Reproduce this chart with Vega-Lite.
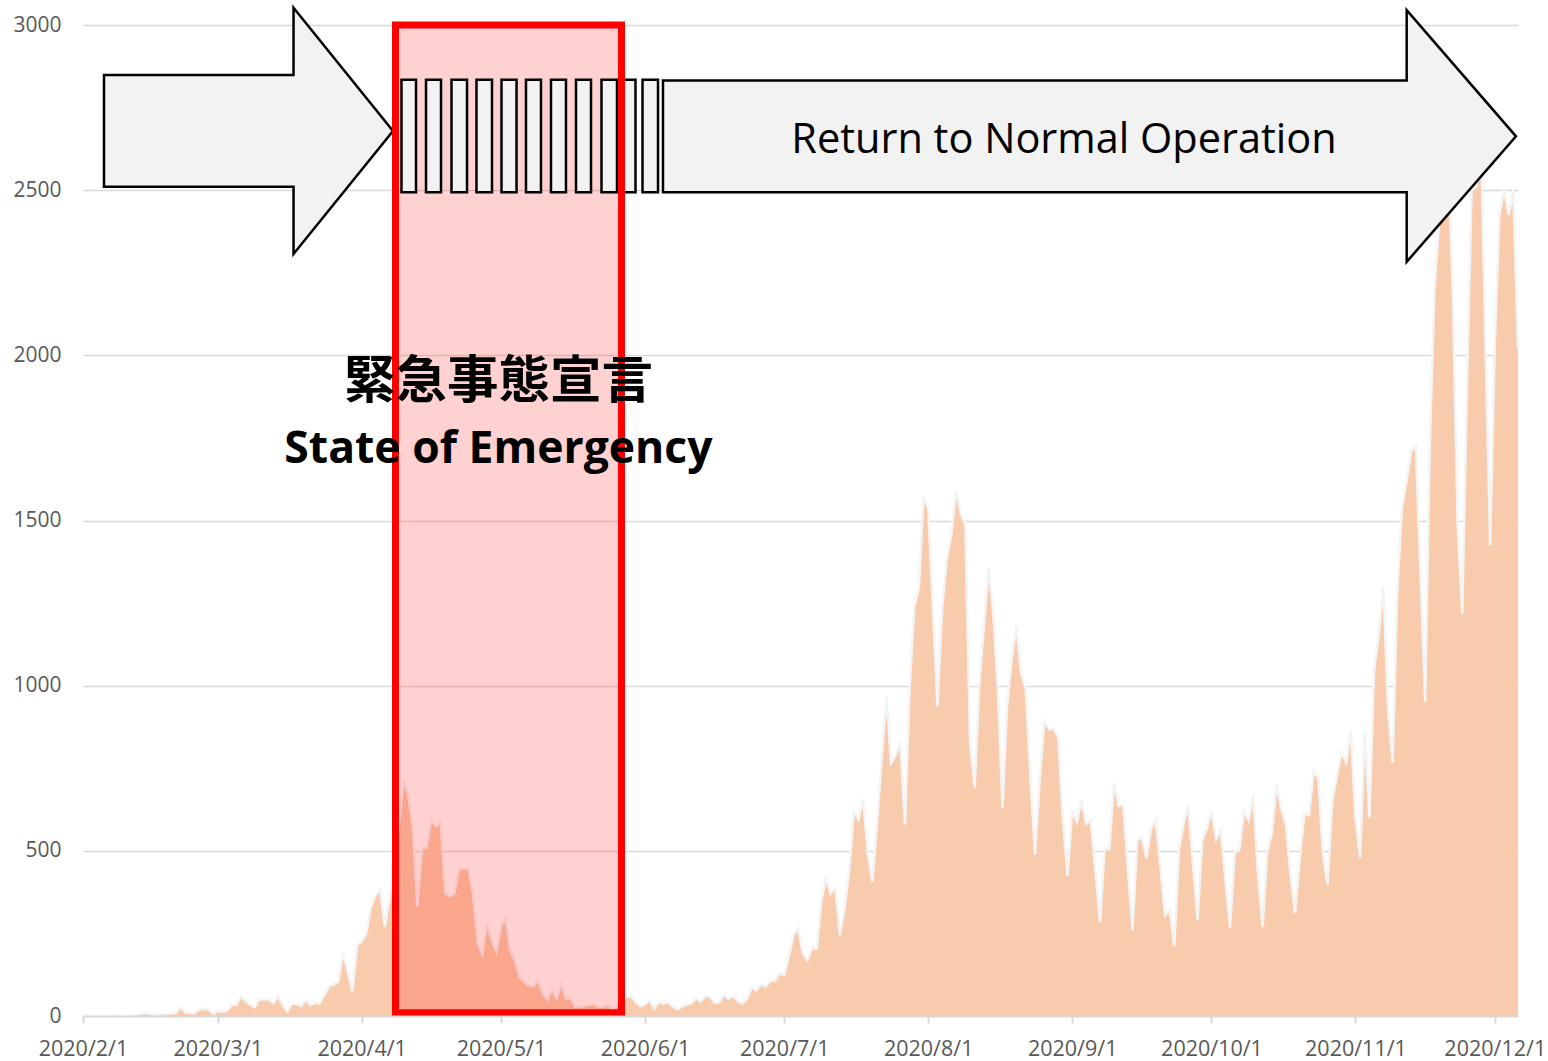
{
  "$schema": "https://vega.github.io/schema/vega-lite/v6.json",
  "width": 1435,
  "height": 991,
  "autosize": {"type": "none"},
  "padding": {"left": 83, "top": 25, "right": 30, "bottom": 45},
  "background": "white",
  "config": {"view": {"stroke": null}},
  "datasets": {
    "cases": [
      {"date":"2020-02-01T00:00","cases":0},{"date":"2020-02-02T00:00","cases":0},{"date":"2020-02-03T00:00","cases":0},{"date":"2020-02-04T00:00","cases":1},{"date":"2020-02-05T00:00","cases":0},{"date":"2020-02-06T00:00","cases":1},{"date":"2020-02-07T00:00","cases":0},{"date":"2020-02-08T00:00","cases":1},{"date":"2020-02-09T00:00","cases":0},{"date":"2020-02-10T00:00","cases":0},
      {"date":"2020-02-11T00:00","cases":1},{"date":"2020-02-12T00:00","cases":2},{"date":"2020-02-13T00:00","cases":5},{"date":"2020-02-14T00:00","cases":9},{"date":"2020-02-15T00:00","cases":8},{"date":"2020-02-16T00:00","cases":5},{"date":"2020-02-17T00:00","cases":4},{"date":"2020-02-18T00:00","cases":5},{"date":"2020-02-19T00:00","cases":6},{"date":"2020-02-20T00:00","cases":8},
      {"date":"2020-02-21T00:00","cases":9},{"date":"2020-02-22T00:00","cases":26},{"date":"2020-02-23T00:00","cases":11},{"date":"2020-02-24T00:00","cases":10},{"date":"2020-02-25T00:00","cases":8},{"date":"2020-02-26T00:00","cases":20},{"date":"2020-02-27T00:00","cases":22},{"date":"2020-02-28T00:00","cases":20},{"date":"2020-02-29T00:00","cases":6},
      {"date":"2020-03-01T00:00","cases":14},{"date":"2020-03-02T00:00","cases":14},{"date":"2020-03-03T00:00","cases":15},{"date":"2020-03-04T00:00","cases":33},{"date":"2020-03-05T00:00","cases":34},{"date":"2020-03-06T00:00","cases":58},{"date":"2020-03-07T00:00","cases":46},{"date":"2020-03-08T00:00","cases":34},{"date":"2020-03-09T00:00","cases":26},{"date":"2020-03-10T00:00","cases":50},
      {"date":"2020-03-11T00:00","cases":50},{"date":"2020-03-12T00:00","cases":50},{"date":"2020-03-13T00:00","cases":38},{"date":"2020-03-14T00:00","cases":60},{"date":"2020-03-15T00:00","cases":34},{"date":"2020-03-16T00:00","cases":14},{"date":"2020-03-17T00:00","cases":38},{"date":"2020-03-18T00:00","cases":36},{"date":"2020-03-19T00:00","cases":31},{"date":"2020-03-20T00:00","cases":48},
      {"date":"2020-03-21T00:00","cases":34},{"date":"2020-03-22T00:00","cases":40},{"date":"2020-03-23T00:00","cases":38},{"date":"2020-03-24T00:00","cases":65},{"date":"2020-03-25T00:00","cases":90},{"date":"2020-03-26T00:00","cases":96},{"date":"2020-03-27T00:00","cases":104},{"date":"2020-03-28T00:00","cases":191},{"date":"2020-03-29T00:00","cases":135},{"date":"2020-03-30T00:00","cases":74},
      {"date":"2020-03-31T00:00","cases":214},
      {"date":"2020-04-01T00:00","cases":225},{"date":"2020-04-02T00:00","cases":250},{"date":"2020-04-03T00:00","cases":331},{"date":"2020-04-04T00:00","cases":366},{"date":"2020-04-05T00:00","cases":383},{"date":"2020-04-06T00:00","cases":270},{"date":"2020-04-07T00:00","cases":355},{"date":"2020-04-08T00:00","cases":480},{"date":"2020-04-09T00:00","cases":568},{"date":"2020-04-10T00:00","cases":707},
      {"date":"2020-04-11T00:00","cases":675},{"date":"2020-04-12T00:00","cases":574},{"date":"2020-04-13T00:00","cases":331},{"date":"2020-04-14T00:00","cases":507},{"date":"2020-04-15T00:00","cases":509},{"date":"2020-04-16T00:00","cases":593},{"date":"2020-04-17T00:00","cases":575},{"date":"2020-04-18T00:00","cases":588},{"date":"2020-04-19T00:00","cases":371},{"date":"2020-04-20T00:00","cases":363},
      {"date":"2020-04-21T00:00","cases":371},{"date":"2020-04-22T00:00","cases":447},{"date":"2020-04-23T00:00","cases":445},{"date":"2020-04-24T00:00","cases":447},{"date":"2020-04-25T00:00","cases":366},{"date":"2020-04-26T00:00","cases":220},{"date":"2020-04-27T00:00","cases":187},{"date":"2020-04-28T00:00","cases":281},{"date":"2020-04-29T00:00","cases":230},{"date":"2020-04-30T00:00","cases":194},
      {"date":"2020-05-01T00:00","cases":270},{"date":"2020-05-02T00:00","cases":300},{"date":"2020-05-03T00:00","cases":200},{"date":"2020-05-04T00:00","cases":169},{"date":"2020-05-05T00:00","cases":118},{"date":"2020-05-06T00:00","cases":103},{"date":"2020-05-07T00:00","cases":93},{"date":"2020-05-08T00:00","cases":89},{"date":"2020-05-09T00:00","cases":109},{"date":"2020-05-10T00:00","cases":69},
      {"date":"2020-05-11T00:00","cases":50},{"date":"2020-05-12T00:00","cases":79},{"date":"2020-05-13T00:00","cases":53},{"date":"2020-05-14T00:00","cases":99},{"date":"2020-05-15T00:00","cases":53},{"date":"2020-05-16T00:00","cases":53},{"date":"2020-05-17T00:00","cases":28},{"date":"2020-05-18T00:00","cases":28},{"date":"2020-05-19T00:00","cases":30},{"date":"2020-05-20T00:00","cases":33},
      {"date":"2020-05-21T00:00","cases":36},{"date":"2020-05-22T00:00","cases":28},{"date":"2020-05-23T00:00","cases":28},{"date":"2020-05-24T00:00","cases":33},{"date":"2020-05-25T00:00","cases":22},{"date":"2020-05-26T00:00","cases":30},{"date":"2020-05-27T00:00","cases":40},{"date":"2020-05-28T00:00","cases":58},{"date":"2020-05-29T00:00","cases":60},{"date":"2020-05-30T00:00","cases":43},
      {"date":"2020-05-31T00:00","cases":30},
      {"date":"2020-06-01T00:00","cases":35},{"date":"2020-06-02T00:00","cases":48},{"date":"2020-06-03T00:00","cases":23},{"date":"2020-06-04T00:00","cases":41},{"date":"2020-06-05T00:00","cases":38},{"date":"2020-06-06T00:00","cases":41},{"date":"2020-06-07T00:00","cases":28},{"date":"2020-06-08T00:00","cases":20},{"date":"2020-06-09T00:00","cases":28},{"date":"2020-06-10T00:00","cases":35},
      {"date":"2020-06-11T00:00","cases":38},{"date":"2020-06-12T00:00","cases":53},{"date":"2020-06-13T00:00","cases":43},{"date":"2020-06-14T00:00","cases":61},{"date":"2020-06-15T00:00","cases":58},{"date":"2020-06-16T00:00","cases":40},{"date":"2020-06-17T00:00","cases":41},{"date":"2020-06-18T00:00","cases":65},{"date":"2020-06-19T00:00","cases":51},{"date":"2020-06-20T00:00","cases":61},
      {"date":"2020-06-21T00:00","cases":45},{"date":"2020-06-22T00:00","cases":38},{"date":"2020-06-23T00:00","cases":53},{"date":"2020-06-24T00:00","cases":86},{"date":"2020-06-25T00:00","cases":77},{"date":"2020-06-26T00:00","cases":96},{"date":"2020-06-27T00:00","cases":89},{"date":"2020-06-28T00:00","cases":106},{"date":"2020-06-29T00:00","cases":107},{"date":"2020-06-30T00:00","cases":129},
      {"date":"2020-07-01T00:00","cases":124},{"date":"2020-07-02T00:00","cases":180},{"date":"2020-07-03T00:00","cases":245},{"date":"2020-07-04T00:00","cases":265},{"date":"2020-07-05T00:00","cases":189},{"date":"2020-07-06T00:00","cases":169},{"date":"2020-07-07T00:00","cases":207},{"date":"2020-07-08T00:00","cases":203},{"date":"2020-07-09T00:00","cases":351},{"date":"2020-07-10T00:00","cases":417},
      {"date":"2020-07-11T00:00","cases":371},{"date":"2020-07-12T00:00","cases":387},{"date":"2020-07-13T00:00","cases":245},{"date":"2020-07-14T00:00","cases":326},{"date":"2020-07-15T00:00","cases":442},{"date":"2020-07-16T00:00","cases":620},{"date":"2020-07-17T00:00","cases":595},{"date":"2020-07-18T00:00","cases":655},{"date":"2020-07-19T00:00","cases":492},{"date":"2020-07-20T00:00","cases":406},
      {"date":"2020-07-21T00:00","cases":590},{"date":"2020-07-22T00:00","cases":780},{"date":"2020-07-23T00:00","cases":968},{"date":"2020-07-24T00:00","cases":766},{"date":"2020-07-25T00:00","cases":790},{"date":"2020-07-26T00:00","cases":828},{"date":"2020-07-27T00:00","cases":579},{"date":"2020-07-28T00:00","cases":995},{"date":"2020-07-29T00:00","cases":1238},{"date":"2020-07-30T00:00","cases":1298},
      {"date":"2020-07-31T00:00","cases":1574},
      {"date":"2020-08-01T00:00","cases":1536},{"date":"2020-08-02T00:00","cases":1240},{"date":"2020-08-03T00:00","cases":936},{"date":"2020-08-04T00:00","cases":1233},{"date":"2020-08-05T00:00","cases":1384},{"date":"2020-08-06T00:00","cases":1460},{"date":"2020-08-07T00:00","cases":1593},{"date":"2020-08-08T00:00","cases":1519},{"date":"2020-08-09T00:00","cases":1487},{"date":"2020-08-10T00:00","cases":830},
      {"date":"2020-08-11T00:00","cases":692},{"date":"2020-08-12T00:00","cases":1006},{"date":"2020-08-13T00:00","cases":1180},{"date":"2020-08-14T00:00","cases":1357},{"date":"2020-08-15T00:00","cases":1222},{"date":"2020-08-16T00:00","cases":990},{"date":"2020-08-17T00:00","cases":630},{"date":"2020-08-18T00:00","cases":941},{"date":"2020-08-19T00:00","cases":1082},{"date":"2020-08-20T00:00","cases":1182},
      {"date":"2020-08-21T00:00","cases":1038},{"date":"2020-08-22T00:00","cases":990},{"date":"2020-08-23T00:00","cases":723},{"date":"2020-08-24T00:00","cases":489},{"date":"2020-08-25T00:00","cases":714},{"date":"2020-08-26T00:00","cases":893},{"date":"2020-08-27T00:00","cases":868},{"date":"2020-08-28T00:00","cases":868},{"date":"2020-08-29T00:00","cases":844},{"date":"2020-08-30T00:00","cases":595},
      {"date":"2020-08-31T00:00","cases":424},
      {"date":"2020-09-01T00:00","cases":622},{"date":"2020-09-02T00:00","cases":588},{"date":"2020-09-03T00:00","cases":654},{"date":"2020-09-04T00:00","cases":581},{"date":"2020-09-05T00:00","cases":593},{"date":"2020-09-06T00:00","cases":439},{"date":"2020-09-07T00:00","cases":284},{"date":"2020-09-08T00:00","cases":512},{"date":"2020-09-09T00:00","cases":504},{"date":"2020-09-10T00:00","cases":707},
      {"date":"2020-09-11T00:00","cases":637},{"date":"2020-09-12T00:00","cases":639},{"date":"2020-09-13T00:00","cases":446},{"date":"2020-09-14T00:00","cases":259},{"date":"2020-09-15T00:00","cases":530},{"date":"2020-09-16T00:00","cases":543},{"date":"2020-09-17T00:00","cases":477},{"date":"2020-09-18T00:00","cases":568},{"date":"2020-09-19T00:00","cases":593},{"date":"2020-09-20T00:00","cases":451},
      {"date":"2020-09-21T00:00","cases":305},{"date":"2020-09-22T00:00","cases":320},{"date":"2020-09-23T00:00","cases":211},{"date":"2020-09-24T00:00","cases":502},{"date":"2020-09-25T00:00","cases":583},{"date":"2020-09-26T00:00","cases":639},{"date":"2020-09-27T00:00","cases":462},{"date":"2020-09-28T00:00","cases":290},{"date":"2020-09-29T00:00","cases":532},{"date":"2020-09-30T00:00","cases":568},
      {"date":"2020-10-01T00:00","cases":622},{"date":"2020-10-02T00:00","cases":535},{"date":"2020-10-03T00:00","cases":563},{"date":"2020-10-04T00:00","cases":411},{"date":"2020-10-05T00:00","cases":267},{"date":"2020-10-06T00:00","cases":495},{"date":"2020-10-07T00:00","cases":504},{"date":"2020-10-08T00:00","cases":620},{"date":"2020-10-09T00:00","cases":593},{"date":"2020-10-10T00:00","cases":669},
      {"date":"2020-10-11T00:00","cases":431},{"date":"2020-10-12T00:00","cases":269},{"date":"2020-10-13T00:00","cases":497},{"date":"2020-10-14T00:00","cases":553},{"date":"2020-10-15T00:00","cases":702},{"date":"2020-10-16T00:00","cases":629},{"date":"2020-10-17T00:00","cases":581},{"date":"2020-10-18T00:00","cases":431},{"date":"2020-10-19T00:00","cases":312},{"date":"2020-10-20T00:00","cases":472},
      {"date":"2020-10-21T00:00","cases":613},{"date":"2020-10-22T00:00","cases":608},{"date":"2020-10-23T00:00","cases":740},{"date":"2020-10-24T00:00","cases":720},{"date":"2020-10-25T00:00","cases":490},{"date":"2020-10-26T00:00","cases":397},{"date":"2020-10-27T00:00","cases":650},{"date":"2020-10-28T00:00","cases":725},{"date":"2020-10-29T00:00","cases":800},{"date":"2020-10-30T00:00","cases":767},
      {"date":"2020-10-31T00:00","cases":865},
      {"date":"2020-11-01T00:00","cases":600},{"date":"2020-11-02T00:00","cases":480},{"date":"2020-11-03T00:00","cases":863},{"date":"2020-11-04T00:00","cases":600},{"date":"2020-11-05T00:00","cases":1047},{"date":"2020-11-06T00:00","cases":1150},{"date":"2020-11-07T00:00","cases":1300},{"date":"2020-11-08T00:00","cases":933},{"date":"2020-11-09T00:00","cases":767},{"date":"2020-11-10T00:00","cases":1283},
      {"date":"2020-11-11T00:00","cases":1537},{"date":"2020-11-12T00:00","cases":1620},{"date":"2020-11-13T00:00","cases":1708},{"date":"2020-11-14T00:00","cases":1725},{"date":"2020-11-15T00:00","cases":1338},{"date":"2020-11-16T00:00","cases":950},{"date":"2020-11-17T00:00","cases":1725},{"date":"2020-11-18T00:00","cases":2200},{"date":"2020-11-19T00:00","cases":2400},{"date":"2020-11-20T00:00","cases":2440},
      {"date":"2020-11-21T00:00","cases":2590},{"date":"2020-11-22T00:00","cases":2170},{"date":"2020-11-23T00:00","cases":1483},{"date":"2020-11-24T00:00","cases":1217},{"date":"2020-11-25T00:00","cases":1900},{"date":"2020-11-26T00:00","cases":2500},{"date":"2020-11-27T00:00","cases":2510},{"date":"2020-11-28T00:00","cases":2680},{"date":"2020-11-29T00:00","cases":2033},{"date":"2020-11-30T00:00","cases":1425},
      {"date":"2020-12-01T00:00","cases":2033},{"date":"2020-12-02T00:00","cases":2425},{"date":"2020-12-03T00:00","cases":2503},{"date":"2020-12-04T00:00","cases":2425},{"date":"2020-12-05T00:00","cases":2500},{"date":"2020-12-06T00:00","cases":2020}
    ],
    "emergency": [
      {"start":"2020-04-08T07:00","end":"2020-05-26T23:00","lo":10,"hi":3000}
    ],
    "arrows": [
      {"shape":"L","t":"2020-02-05T12:30","lo":2510,"hi":2849},
      {"shape":"L","t":"2020-03-17T08:00","lo":2510,"hi":2849},
      {"shape":"L","t":"2020-03-17T08:01","lo":2307,"hi":3052},
      {"shape":"L","t":"2020-04-07T18:00","lo":2679,"hi":2679},
      {"shape":"R","t":"2020-06-04T21:20","lo":2494,"hi":2832},
      {"shape":"R","t":"2020-11-12T00:45","lo":2494,"hi":2832},
      {"shape":"R","t":"2020-11-12T00:46","lo":2283,"hi":3045},
      {"shape":"R","t":"2020-12-05T13:40","lo":2663,"hi":2663}
    ],
    "stripes": [
      {"start":"2020-04-09T13:55","end":"2020-04-12T17:00","lo":2494,"hi":2834},
      {"start":"2020-04-14T20:40","end":"2020-04-18T02:10","lo":2494,"hi":2834},
      {"start":"2020-04-20T08:25","end":"2020-04-23T16:35","lo":2494,"hi":2834},
      {"start":"2020-04-25T17:30","end":"2020-04-29T01:40","lo":2494,"hi":2834},
      {"start":"2020-05-01T02:50","end":"2020-05-04T08:25","lo":2494,"hi":2834},
      {"start":"2020-05-06T09:20","end":"2020-05-09T14:50","lo":2494,"hi":2834},
      {"start":"2020-05-11T18:30","end":"2020-05-15T00:00","lo":2494,"hi":2834},
      {"start":"2020-05-17T03:50","end":"2020-05-20T09:20","lo":2494,"hi":2834},
      {"start":"2020-05-22T15:35","end":"2020-05-25T23:45","lo":2494,"hi":2834},
      {"start":"2020-05-26T23:00","end":"2020-05-29T23:15","lo":2494,"hi":2834},
      {"start":"2020-05-31T11:30","end":"2020-06-03T19:40","lo":2494,"hi":2834}
    ]
  },
  "layer": [
    {
      "data": {"name": "cases"},
      "mark": {"type": "area", "color": "#F8CBAD", "opacity": 1, "fillOpacity": 1, "interpolate": "linear", "line": {"color": "#F4F4F4", "strokeWidth": 2.5, "opacity": 1}},
      "encoding": {
        "x": {
          "field": "date", "type": "temporal", "title": null,
          "scale": {"domain": [{"year": 2020, "month": 2, "date": 1}, {"year": 2020, "month": 12, "date": 6}]},
          "axis": {
            "title": null, "grid": false, "zindex": 1,
            "values": [
              {"year": 2020, "month": 2, "date": 1}, {"year": 2020, "month": 3, "date": 1}, {"year": 2020, "month": 4, "date": 1},
              {"year": 2020, "month": 5, "date": 1}, {"year": 2020, "month": 6, "date": 1}, {"year": 2020, "month": 7, "date": 1},
              {"year": 2020, "month": 8, "date": 1}, {"year": 2020, "month": 9, "date": 1}, {"year": 2020, "month": 10, "date": 1},
              {"year": 2020, "month": 11, "date": 1}, {"year": 2020, "month": 12, "date": 1}
            ],
            "format": "%Y/%-m/%-d",
            "labelAngle": 0, "labelOverlap": false, "labelFlush": false,
            "domainColor": "#D9D9D9", "domainWidth": 2,
            "tickColor": "#D9D9D9", "tickWidth": 2, "tickSize": 7,
            "labelColor": "#595959", "labelFont": "Open Sans", "labelFontSize": 21.5, "labelPadding": 15
          }
        },
        "y": {
          "field": "cases", "type": "quantitative", "title": null,
          "scale": {"domain": [0, 3000], "nice": false},
          "axis": {
            "title": null, "domain": false, "ticks": false, "tickSize": 0,
            "values": [0, 500, 1000, 1500, 2000, 2500, 3000],
            "format": "d",
            "grid": true, "gridColor": "#D9D9D9", "gridWidth": 1.5,
            "labelColor": "#595959", "labelFont": "Open Sans", "labelFontSize": 21, "labelPadding": 22
          }
        }
      }
    },
    {
      "data": {"name": "emergency"},
      "mark": {"type": "rect", "fill": "#FF0000", "fillOpacity": 0.18, "strokeWidth": 0},
      "encoding": {
        "x": {"field": "start", "type": "temporal", "title": null},
        "x2": {"field": "end"},
        "y": {"field": "lo", "type": "quantitative", "title": null},
        "y2": {"field": "hi"}
      }
    },
    {
      "data": {"name": "arrows"},
      "mark": {"type": "area", "fill": "#F2F2F2", "fillOpacity": 1, "opacity": 1, "stroke": "#000000", "strokeWidth": 2.5, "strokeJoin": "miter", "interpolate": "linear", "clip": false},
      "encoding": {
        "x": {"field": "t", "type": "temporal", "title": null},
        "y": {"field": "hi", "type": "quantitative", "title": null},
        "y2": {"field": "lo"},
        "detail": {"field": "shape", "type": "nominal"}
      }
    },
    {
      "data": {"name": "stripes"},
      "mark": {"type": "rect", "fill": "#F2F2F2", "fillOpacity": 1, "stroke": "#000000", "strokeWidth": 2.5},
      "encoding": {
        "x": {"field": "start", "type": "temporal", "title": null},
        "x2": {"field": "end"},
        "y": {"field": "lo", "type": "quantitative", "title": null},
        "y2": {"field": "hi"}
      }
    },
    {
      "data": {"name": "emergency"},
      "mark": {"type": "rect", "fill": "transparent", "fillOpacity": 0, "stroke": "#FF0000", "strokeWidth": 7},
      "encoding": {
        "x": {"field": "start", "type": "temporal", "title": null},
        "x2": {"field": "end"},
        "y": {"field": "lo", "type": "quantitative", "title": null},
        "y2": {"field": "hi"}
      }
    },
    {
      "data": {"values": [{"t": "2020-04-30T11:00", "v": 1871, "label": "緊急事態宣言"}]},
      "mark": {"type": "text", "font": "Noto Sans CJK JP", "fontWeight": "bold", "fontSize": 51.5, "align": "center", "baseline": "alphabetic", "color": "#000000"},
      "encoding": {
        "x": {"field": "t", "type": "temporal", "title": null},
        "y": {"field": "v", "type": "quantitative", "title": null},
        "text": {"field": "label"}
      }
    },
    {
      "data": {"values": [{"t": "2020-04-30T11:00", "v": 1673, "label": "State of Emergency"}]},
      "mark": {"type": "text", "font": "Open Sans", "fontWeight": "bold", "fontSize": 44.5, "align": "center", "baseline": "alphabetic", "color": "#000000"},
      "encoding": {
        "x": {"field": "t", "type": "temporal", "title": null},
        "y": {"field": "v", "type": "quantitative", "title": null},
        "text": {"field": "label"}
      }
    },
    {
      "data": {"values": [{"t": "2020-08-30T05:45", "v": 2613, "label": "Return to Normal Operation"}]},
      "mark": {"type": "text", "font": "Open Sans", "fontSize": 41.5, "align": "center", "baseline": "alphabetic", "color": "#000000"},
      "encoding": {
        "x": {"field": "t", "type": "temporal", "title": null},
        "y": {"field": "v", "type": "quantitative", "title": null},
        "text": {"field": "label"}
      }
    }
  ]
}
